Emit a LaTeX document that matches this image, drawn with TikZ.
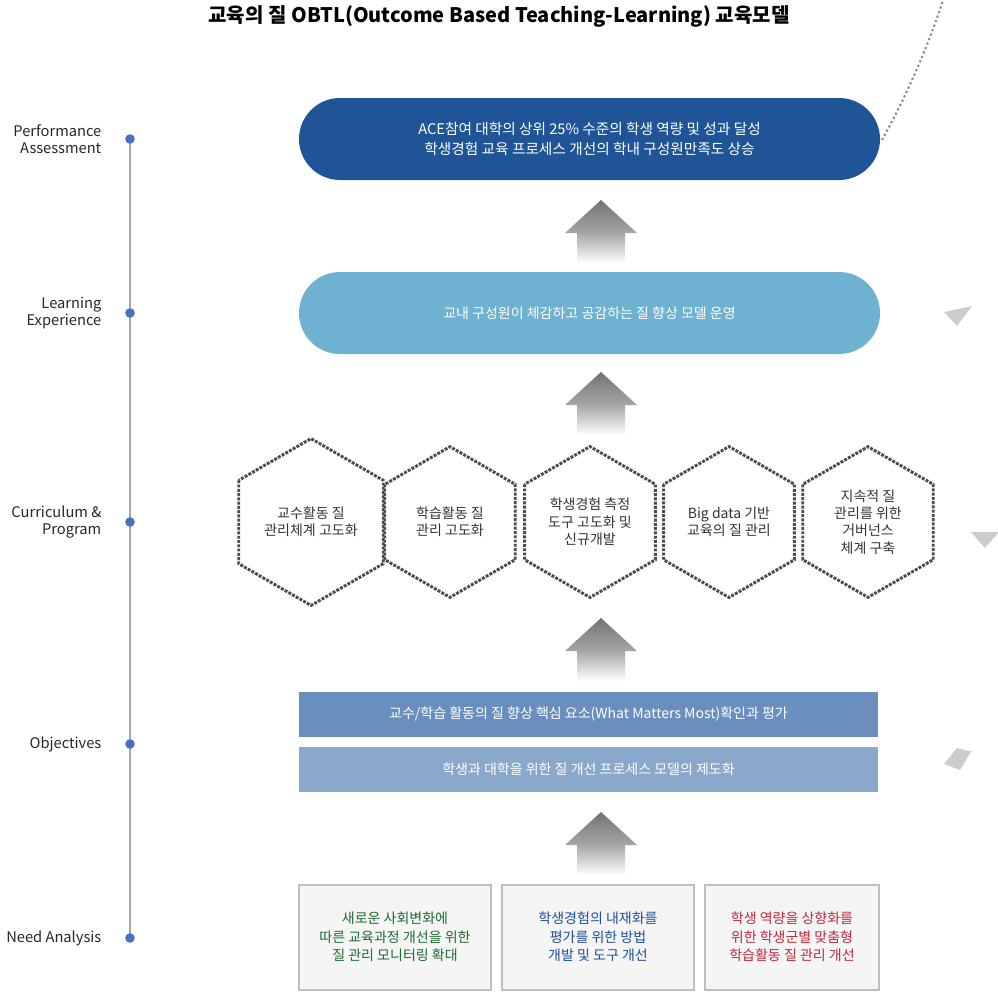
\documentclass[tikz,border=0pt]{standalone}
\usepackage{fontspec}
\setmainfont{Noto Sans CJK KR}
\usetikzlibrary{shapes.geometric}
\definecolor{dblue}{HTML}{1F5597}
\definecolor{lblue}{HTML}{6EB1D0}
\definecolor{rblue}{HTML}{6A8FBF}
\definecolor{rblue2}{HTML}{8AA8CC}
\definecolor{dotb}{HTML}{4472C4}
\definecolor{tgreen}{HTML}{1E6B2E}
\definecolor{tblue}{HTML}{1F4E9B}
\definecolor{tred}{HTML}{C0283C}
\tikzset{
 lab/.style={anchor=east,align=right,font=\fontsize{11}{13}\selectfont,text=black!85},
 pill/.style={rounded corners=30.75pt,minimum width=435.75pt,minimum height=61.5pt,text=white,align=center,font=\fontsize{11}{15}\selectfont},
 bar/.style={minimum width=434.25pt,minimum height=33.75pt,text=white,font=\fontsize{10.5}{13}\selectfont},
 hexa/.style={regular polygon,regular polygon sides=6,minimum size=113pt,draw=black!70,densely dotted,line width=2.2pt,align=center,font=\fontsize{10.5}{13}\selectfont,text=black!80},
 bbox/.style={minimum width=144pt,minimum height=78.75pt,fill=black!4,draw=black!25,line width=1.5pt,align=center,font=\fontsize{10.5}{14}\selectfont},
 tip/.style={fill=black!20,draw=none}
}
\begin{document}
\begin{tikzpicture}[x=0.75pt,y=-0.75pt]
\useasboundingbox (0,0) rectangle (998,992);
\node[font=\bfseries\fontsize{15}{18}\selectfont] (title) at (499,16) {교육의 질 OBTL(Outcome Based Teaching-Learning) 교육모델};
% timeline
\draw[black!35,line width=1.2pt] (130,139) -- (130,938);
\foreach \y/\t [count=\i] in {139/{Performance\\Assessment},313/{Learning\\Experience},522/{Curriculum \&\\Program},744/{Objectives},938/{Need Analysis}}{
 \fill[dotb] (130,\y) circle (3.6pt);
 \node[lab] (l\i) at (106,\y) {\t};
}
% arrows
\foreach \y [count=\i] in {200,372,618,812}{
 \shade[top color=black!55,bottom color=black!35] (601,\y) -- (637,\y+33) -- (565,\y+33) -- cycle;
 \shade[top color=black!35,bottom color=white] (577,\y+33) rectangle (625,\y+63);
}
% right curve
\draw[black!45,dotted,line width=1.6pt] (882,140) arc[start angle=-28.9,end angle=28.9,radius=621pt];
\coordinate (t1) at (958,318);
\coordinate (t2) at (985,540);
\coordinate (t3) at (958,758);
\fill[tip] (944,312) -- (972,306) -- (957,326) -- cycle;
\fill[tip] (971,532) -- (999,532) -- (985,548) -- cycle;
\fill[tip] (944,764) -- (972,752) -- (957,748) -- cycle;
\fill[tip] (944,764) -- (972,750) -- (960,770) -- cycle;
% pills
\node[pill,fill=dblue] (p1) at (589.5,139) {ACE참여 대학의 상위 25\% 수준의 학생 역량 및 성과 달성\\학생경험 교육 프로세스 개선의 학내 구성원만족도 상승};
\node[pill,fill=lblue] (p2) at (589.5,313) {\fontsize{10.5}{13}\selectfont 교내 구성원이 체감하고 공감하는 질 향상 모델 운영};
% hexagons
\foreach \x/\t [count=\i] in {311/{교수활동 질\\관리체계 고도화},450/{학습활동 질\\관리 고도화},590/{학생경험 측정\\도구 고도화 및\\신규개발},729/{Big data 기반\\교육의 질 관리},868/{지속적 질\\관리를 위한\\거버넌스\\체계 구축}}{
 \node[hexa,shape border rotate=90] (h\i) at (\x,522) {\t};
}
% bars
\node[bar,fill=rblue] (b1) at (588.5,714.5) {교수/학습 활동의 질 향상 핵심 요소(What Matters Most)확인과 평가};
\node[bar,fill=rblue2] (b2) at (588.5,769.5) {학생과 대학을 위한 질 개선 프로세스 모델의 제도화};
% bottom boxes
\node[bbox,text=tgreen] (n1) at (395,937) {새로운 사회변화에\\따른 교육과정 개선을 위한\\질 관리 모니터링 확대};
\node[bbox,text=tblue] (n2) at (598,937) {학생경험의 내재화를\\평가를 위한 방법\\개발 및 도구 개선};
\node[bbox,text=tred,minimum width=130.5pt] (n3) at (792,937) {학생 역량을 상향화를\\위한 학생군별 맞춤형\\학습활동 질 관리 개선};
\end{tikzpicture}
\end{document}
